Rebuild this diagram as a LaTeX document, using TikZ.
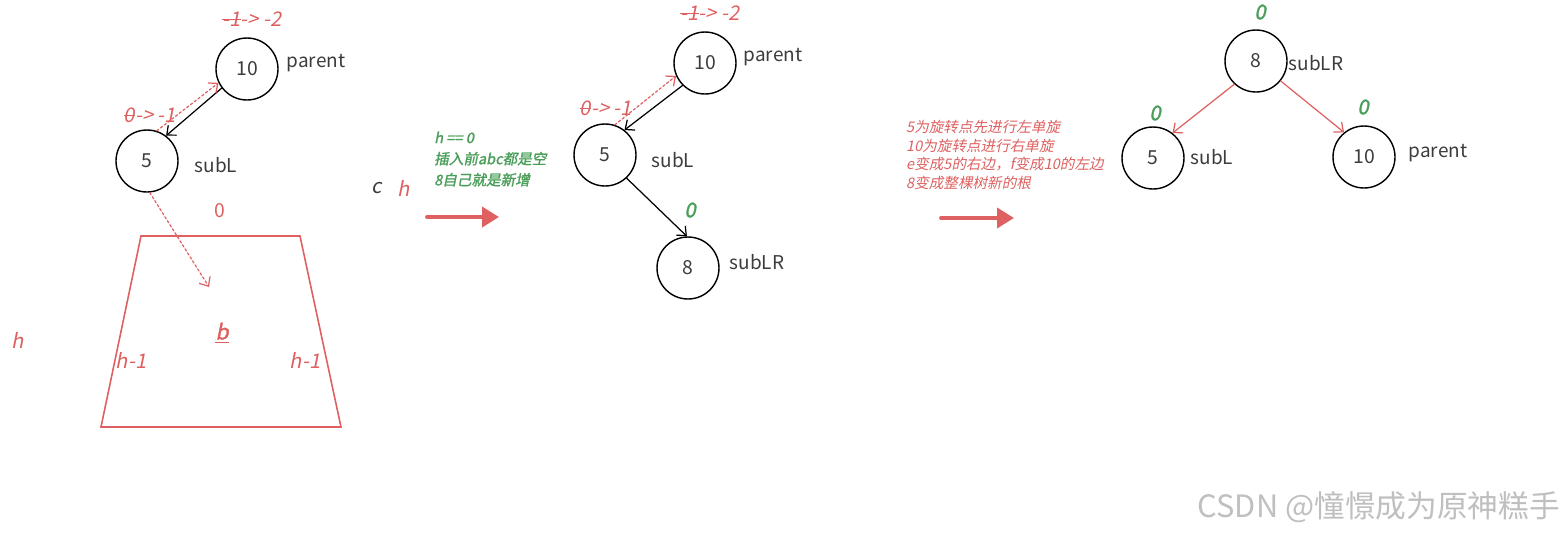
\documentclass[tikz,border=0pt]{standalone}
\usepackage{fontspec}
\setmainfont{Noto Sans CJK SC}
\newfontfamily\slfont{Noto Sans CJK SC}[FakeSlant=0.2]
\newfontfamily\slbfont{Noto Sans CJK SC}[FakeSlant=0.2,FakeBold=1.5]
\usepackage{tikz}
\usetikzlibrary{arrows.meta}
\usepackage{xcolor}
\definecolor{avlred}{RGB}{222,96,96}
\definecolor{avlgreen}{RGB}{74,158,90}
\definecolor{avlgray}{RGB}{60,60,60}
\newcommand\strk[1]{\setbox0\hbox{#1}\leavevmode\rlap{\rule[0.3em]{\wd0}{0.6pt}}\box0}

\begin{document}
\begin{tikzpicture}[x=0.02cm,y=-0.02cm,>={Straight Barb[length=1.5mm,width=2.6mm]},line cap=round,
  treenode/.style={circle,draw=black,line width=0.8pt,minimum size=1.24cm,inner sep=0pt,text=avlgray,font=\fontsize{11}{12}\selectfont},
  tag/.style={text=avlgray,font=\fontsize{10.8}{12}\selectfont},
  redbf/.style={text=avlred,font=\slfont\fontsize{11.5}{12}\selectfont},
  greenbf/.style={text=avlgreen,font=\slbfont\fontsize{11.5}{12}\selectfont},
  note/.style={anchor=west,align=left,font=\slbfont\fontsize{8.3}{12}\selectfont},
  link/.style={->,line width=0.7pt},
  hint/.style={->,avlred,line width=0.7pt,dash pattern=on 1.4pt off 1.3pt},
  bigarrow/.style={-{Triangle[length=3.4mm,width=4mm]},avlred,line width=2.2pt}]
\useasboundingbox (0,0) rectangle (1563,535);

% before: the two nodes and the subtree b
\node[treenode] (p10) at (247,69) {10};
\node[tag] (p10tag) at (316,63) {parent};
\node[redbf] (p10bf) at (252,19) {\strk{-1} -> -2};
\node[treenode] (s5) at (147,161) {5};
\node[tag] (s5tag) at (216,165) {subL};
\node[redbf] (s5bf) at (150,115) {\strk{0} -> -1};
\draw[link] (p10.217) -- (s5.53);
\draw[hint] (s5.72) -- (p10.206);
\coordinate (btip) at (209,287);
\draw[hint] (s5.-85) -- (btip);
\node[text=avlred,font=\fontsize{11}{12}\selectfont] (bzero) at (220,211) {0};
\draw[avlred,line width=0.9pt] (141,236) -- (300,236) -- (341,427) -- (101,427) -- cycle;
\node[text=avlred,font=\slbfont\fontsize{12}{12}\selectfont] (bname) at (222,333) {\underline{b}};
\node[redbf] (hl) at (131,360) {h-1};
\node[redbf] (hr) at (305,360) {h-1};
\node[redbf] (hh) at (18,340) {h};
\node[text=avlgray,font=\slfont\fontsize{11.5}{12}\selectfont] (cc) at (377,188) {c};
\node[redbf] (ch) at (404,188) {h};
\node[note,text=avlgreen] (why) at (428,159) {h == 0\\插入前abc都是空\\8自己就是新增};
\coordinate (a1) at (427,217);
\coordinate (a2) at (499,217);
\draw[bigarrow] (a1) -- (a2);

% after inserting 8
\node[treenode] (m10) at (705,63) {10};
\node[tag] (m10tag) at (773,57) {parent};
\node[redbf] (m10bf) at (710,13) {\strk{-1} -> -2};
\node[treenode] (m5) at (605,155) {5};
\node[tag] (m5tag) at (673,160) {subL};
\node[redbf] (m5bf) at (606,108) {\strk{0} -> -1};
\node[treenode] (m8) at (688,268) {8};
\node[tag] (m8tag) at (757,262) {subLR};
\node[greenbf] (m8bf) at (690,210) {0};
\draw[link] (m10.225) -- (m5.52);
\draw[hint] (m5.72) -- (m10.204);
\draw[link] (m5.-47) -- (m8.92);
\node[note,text=avlred,font=\slfont\fontsize{8.3}{10.5}\selectfont] (steps) at (900,155) {5为旋转点先进行左单旋\\10为旋转点进行右单旋\\e变成5的右边，f变成10的左边\\8变成整棵树新的根};
\coordinate (b1) at (941,218);
\coordinate (b2) at (1014,218);
\draw[bigarrow] (b1) -- (b2);

% after the double rotation
\node[treenode] (r8) at (1256,61) {8};
\node[tag] (r8tag) at (1316,63) {subLR};
\node[greenbf] (r8bf) at (1260,12) {0};
\node[treenode] (r5) at (1153,158) {5};
\node[tag] (r5tag) at (1212,157) {subL};
\node[greenbf] (r5bf) at (1155,113) {0};
\node[treenode] (r10) at (1364,157) {10};
\node[tag] (r10tag) at (1438,153) {parent};
\node[greenbf] (r10bf) at (1363,107) {0};
\draw[link,avlred] (r8.227) -- (r5.52);
\draw[link,avlred] (r8.-39) -- (r10.129);

\node[text=black!25,font=\fontsize{17.5}{18}\selectfont] (mark) at (1379,507) {CSDN @憧憬成为原神糕手};
\end{tikzpicture}
\end{document}
